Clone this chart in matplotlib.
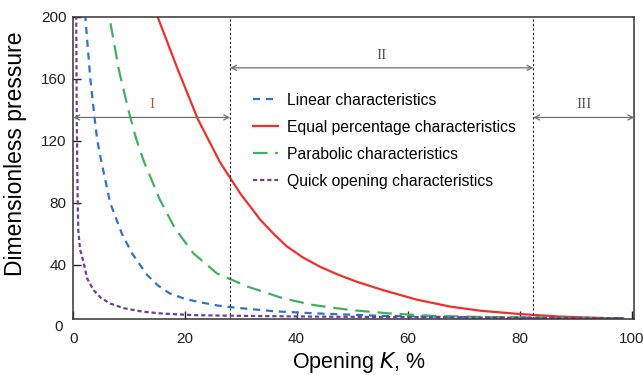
import numpy as np
import matplotlib
matplotlib.use('Agg')
import matplotlib.pyplot as plt
import matplotlib.transforms as mtransforms

plt.rcParams['font.family'] = ['Liberation Sans', 'DejaVu Sans']

# values
k_linear = [2.0, 2.15, 3.05, 3.8, 4.3, 5.0, 6.6, 8.7, 10.5, 13.2, 15.2, 17.3, 20, 22.7, 26, 29.9, 36, 43.6, 55.6, 70, 85, 98.5]
p_linear = [210, 200, 160, 135, 120, 107, 80, 60, 47.5, 33.5, 26.5, 21.5, 18, 15.8, 13.6, 12, 10, 8.6, 7, 6.2, 5.8, 5.5]

k_equal = [14.6, 15.1, 18.6, 22.3, 26.3, 28.1, 29.9, 33.5, 36, 38.2, 41, 44.2, 47.5, 50.8, 55.6, 61.5, 67.5, 73, 80, 87, 93, 98.5]
p_equal = [205, 200, 167, 134, 106, 96, 86, 69, 59.5, 52, 45, 38.7, 33.5, 29, 23.5, 17.5, 13, 10.3, 8.2, 6.6, 5.8, 5.3]

k_parab = [6.3, 6.45, 8.2, 10, 11.2, 12.6, 15.5, 18.2, 21.5, 25.7, 31.3, 37.6, 43, 49.6, 57, 64.5, 72, 82, 90, 98.5]
p_parab = [210, 200, 165, 138, 122, 107, 82, 63.5, 47.4, 34.5, 25.8, 18.3, 14, 10.8, 8.5, 7, 6.4, 5.9, 5.7, 5.5]

k_quick = [0.5, 0.52, 0.6, 0.7, 0.8, 0.9, 1.2, 1.8, 2.5, 3.6, 5, 6.6, 9, 12.5, 16, 21.5, 28, 34, 45, 60, 75, 90, 98.5]
p_quick = [210, 200, 150, 105, 78, 62, 50, 42, 31, 23.7, 18.5, 15, 12, 9.7, 8.5, 7.5, 7.1, 6.9, 6.5, 6.2, 5.9, 5.7, 5.5]

labels = ['Linear characteristics', 'Equal percentage characteristics',
          'Parabolic characteristics', 'Quick opening characteristics']

# region boundaries (opening, %) and arrow heights
bounds = [0, 28.1, 82.4, 100.5]
region_names = ['I', 'II', 'III']
arrow_y = [135, 167, 135]

yticks = [0, 40, 80, 120, 160, 200]
xticks = [0, 20, 40, 60, 80, 100]

fig = plt.figure(figsize=(6.43, 3.75), dpi=100)
ax = fig.add_axes([0.114, 0.1485, 0.8725, 0.807])

lw = 1.6
ax.plot(k_linear, p_linear, color='#2f74c8', lw=lw, dashes=(3.2, 2.6), label=labels[0])
ax.plot(k_equal, p_equal, color='#f2302a', lw=lw, label=labels[1])
ax.plot(k_parab, p_parab, color='#3fb35c', lw=lw, dashes=(6.5, 3.5), label=labels[2])
ax.plot(k_quick, p_quick, color='#6c3fa6', lw=lw, dashes=(1.9, 1.3), label=labels[3])

ax.set_xlim(0, 100.5)
ax.set_ylim(4.8, 200)
ax.set_xticks(xticks)
ax.set_yticks(yticks[1:])
ax.tick_params(direction='in', length=6, width=1, colors='#222222', labelsize=11)
ax.tick_params(axis='x', pad=9)
ax.tick_params(axis='y', pad=5)
# the zero label of the y axis sits below the frame in the original
trans = mtransforms.blended_transform_factory(ax.transAxes, ax.transData)
ax.text(-0.018, yticks[0], '0', transform=trans, ha='right', va='center', fontsize=11, color='#222222', clip_on=False)

for s in ax.spines.values():
    s.set_color('#333333')
    s.set_linewidth(1.1)

ax.set_xlabel('Opening $\\it{K}$, %', fontsize=15.5)
ax.set_ylabel('Dimensionless pressure', fontsize=16.5)
ax.xaxis.set_label_coords(0.509, -0.1)
ax.yaxis.set_label_coords(-0.083, 0.548)

# dotted region boundaries
for b in bounds[1:3]:
    ax.axvline(b, color='#222222', lw=0.8, ls=(0, (2, 2)))

# region arrows and names
name_colors = ['#8a6a48', '#555555', '#555555']
for i in range(3):
    x0, x1 = bounds[i], bounds[i + 1]
    ax.annotate('', xy=(x1, arrow_y[i]), xytext=(x0, arrow_y[i]),
                arrowprops=dict(arrowstyle='<->', color='#707070', lw=0.9,
                                shrinkA=0, shrinkB=0, mutation_scale=9))
    ax.text((x0 + x1) / 2, arrow_y[i] + 4, region_names[i], ha='center', va='bottom',
            fontsize=11, family='Liberation Serif', color=name_colors[i])

ax.legend(loc='upper left', bbox_to_anchor=(0.32, 0.749), frameon=False,
          fontsize=11.3, handlelength=1.6, handletextpad=0.55, labelspacing=0.77,
          borderpad=0, borderaxespad=0)

fig.savefig('out.png', dpi=100)
